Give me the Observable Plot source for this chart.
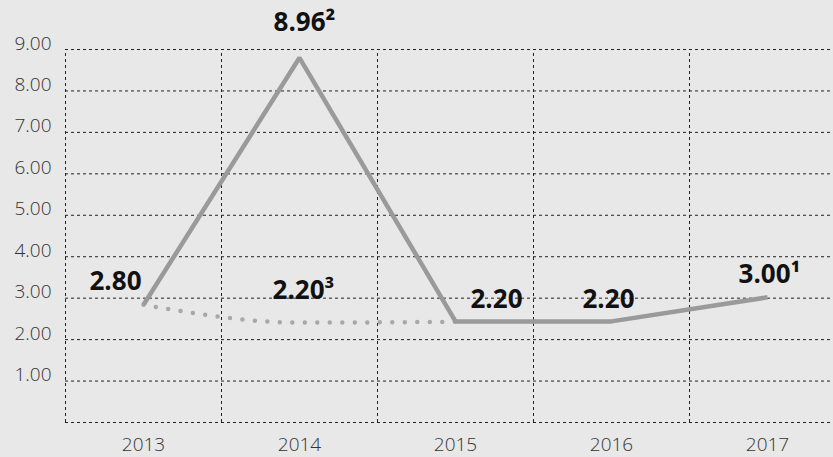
<!DOCTYPE html>
<html>
<head>
<meta charset="utf-8">
<script src="https://cdn.jsdelivr.net/npm/d3@7"></script>
<script src="https://cdn.jsdelivr.net/npm/@observablehq/plot@0.6"></script>
<style>
  html, body { margin: 0; padding: 0; background: #e8e8e8; }
  #chart { width: 833px; height: 457px; overflow: hidden; }
</style>
</head>
<body>
<div id="chart"></div>
<script>
// ---- data ----
const years = [2013, 2014, 2015, 2016, 2017];
const mainValues = [2.84, 8.8, 2.44, 2.44, 3.02];        // solid line (plotted positions)
const dottedYears = [2013, 2014, 2015];
const dottedValues = [2.84, 2.41, 2.43];                 // dotted line
const yTicks = [1, 2, 3, 4, 5, 6, 7, 8, 9];
const labelTexts = ["2.80", "8.96²", "2.20³", "2.20", "2.20", "3.00¹"];
const labelYears = [2013, 2014, 2014, 2015, 2016, 2017];
const labelAnchors = [mainValues[0], mainValues[1], dottedValues[1], mainValues[2], mainValues[3], mainValues[4]];

const mainData = years.map((y, i) => ({year: y, value: mainValues[i]}));
const dottedData = dottedYears.map((y, i) => ({year: y, value: dottedValues[i]}));
const labelData = labelTexts.map((t, i) => ({text: t, year: labelYears[i], value: labelAnchors[i]}));
const boundaries = years.map(y => y - 0.5);

// per-label offsets (pixels) from their anchor point
const offs = [[-28, -23], [5, -35], [4, -32], [41, -22], [-3, -22], [2, -23]];

const grid = {stroke: "#222", strokeWidth: 1, strokeDasharray: "3,3"};

const chart = Plot.plot({
  width: 833,
  height: 457,
  marginLeft: 65,
  marginRight: -12,
  marginTop: 49,
  marginBottom: 35,
  x: {type: "linear", domain: [2012.5, 2017.5]},
  y: {domain: [0, 9]},
  style: {background: "#e8e8e8", fontFamily: "'Open Sans', sans-serif", fontSize: "19px", color: "#2a2a2a"},
  marks: [
    Plot.ruleY([0, ...yTicks], grid),
    Plot.ruleX(boundaries, {...grid, y1: 0, y2: 9}),
    Plot.line(dottedData, {x: "year", y: "value", curve: "monotone-x", stroke: "#a8a8a8",
      strokeWidth: 4.5, strokeDasharray: "0,12.5", strokeLinecap: "round"}),
    Plot.line(mainData, {x: "year", y: "value", stroke: "#9a9a9a", strokeWidth: 4.5,
      strokeLinejoin: "miter", strokeLinecap: "butt"}),
    Plot.axisY(yTicks, {tickSize: 0, tickPadding: 14, tickFormat: d => d.toFixed(2), dy: -6,
      fontSize: 19, fontWeight: 300, label: null, fill: "#333"}),
    Plot.axisX(years, {tickSize: 0, tickPadding: 15, tickFormat: d => String(d),
      fontSize: 19, fontWeight: 300, label: null, fill: "#333"}),
    ...labelData.map((d, i) => Plot.text([d], {
      x: "year", y: "value", text: "text", dx: offs[i][0], dy: offs[i][1],
      fontSize: 26, fontWeight: "bold", fill: "#111", textAnchor: "middle"
    }))
  ]
});
document.getElementById("chart").appendChild(chart);
</script>
</body>
</html>
